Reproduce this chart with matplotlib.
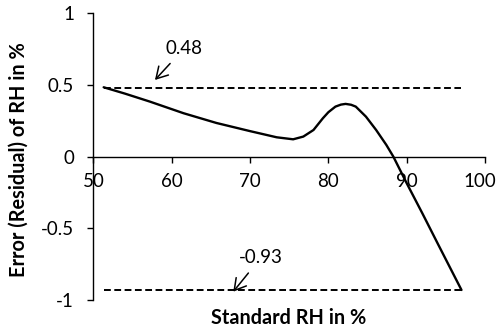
import matplotlib
matplotlib.use("Agg")
import matplotlib.pyplot as plt
from matplotlib.transforms import ScaledTranslation

plt.rcParams['font.family'] = ['Lato', 'DejaVu Sans']

rh = [51.3, 54, 57.2, 61.5, 65.7, 70, 73.4, 75.5, 76.8, 78.1, 79.3, 80.0, 80.9, 81.6, 82.2, 82.9, 83.5, 84.8, 86.1, 87.4, 88.3, 90, 92, 94, 97]
residual = [0.484, 0.44, 0.384, 0.303, 0.235, 0.178, 0.135, 0.121, 0.140, 0.186, 0.268, 0.310, 0.349, 0.363, 0.368, 0.362, 0.349, 0.279, 0.186, 0.082, 0.0, -0.185, -0.395, -0.61, -0.93]
max_err = 0.48
min_err = -0.93
xticks = [50, 60, 70, 80, 90, 100]
yticks = [-1, -0.5, 0, 0.5, 1]
ytick_labels = ['-1', '-0.5', '0', '0.5', '1']

fig = plt.figure(figsize=(5.01, 3.30), dpi=100)
ax = fig.add_axes([0.1866, 0.0909, 0.7814, 0.8688])

ax.plot(rh, residual, color='black', lw=1.7, solid_joinstyle='round', solid_capstyle='round')
ax.plot([rh[0], rh[-1]], [max_err, max_err], color='black', lw=1.4, dashes=(3.5, 1.8))
ax.plot([rh[0], rh[-1]], [min_err, min_err], color='black', lw=1.4, dashes=(3.5, 1.8))

ax.set_xlim(50, 100)
ax.set_ylim(-1, 1)
ax.spines['top'].set_visible(False)
ax.spines['right'].set_visible(False)
ax.spines['bottom'].set_position(('data', 0))
ax.spines['left'].set_linewidth(1.0)
ax.spines['bottom'].set_linewidth(1.0)
ax.set_xticks(xticks)
ax.set_xticklabels([str(t) for t in xticks])
ax.set_yticks(yticks)
ax.set_yticklabels(ytick_labels)
ax.tick_params(direction='out', length=4, width=1.0, labelsize=13.5)
ax.tick_params(axis='y', pad=10)
ax.tick_params(axis='x', pad=8)
# keep the last x label inside the figure
last = ax.get_xticklabels()[-1]
last.set_transform(last.get_transform() + ScaledTranslation(-5/100, 0, fig.dpi_scale_trans))

arrow_style = dict(arrowstyle='->,head_length=0.6,head_width=0.35', color='black',
                   lw=1.1, shrinkA=4, shrinkB=0)
ax.annotate(f'{max_err:.2f}', xy=(57.85, 0.535), xytext=(61.6, 0.757),
            ha='center', va='center', fontsize=13.5, arrowprops=arrow_style)
ax.annotate(f'{min_err:.2f}', xy=(67.85, -0.942), xytext=(71.4, -0.703),
            ha='center', va='center', fontsize=13.5, arrowprops=arrow_style)

fig.text(0.5766, 0.036, 'Standard RH in %', ha='center', va='center',
         fontsize=14.3, fontweight='bold')
fig.text(0.038, 0.515, 'Error (Residual) of RH in %', ha='center', va='center',
         rotation=90, fontsize=14.3, fontweight='bold')

fig.savefig('out.png', dpi=100)
